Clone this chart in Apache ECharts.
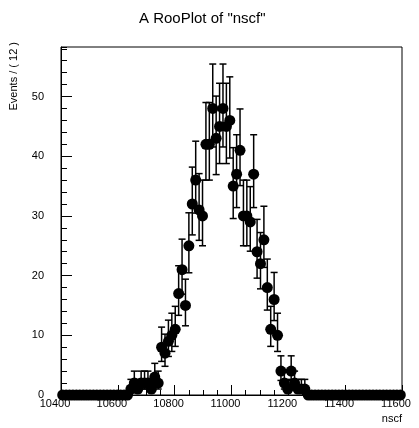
<!DOCTYPE html>
<html>
<head>
<meta charset="utf-8">
<script src="https://cdn.jsdelivr.net/npm/echarts@6/dist/echarts.min.js"></script>
<style>
  html, body { margin: 0; padding: 0; background: #fff; }
  #chart { width: 419px; height: 428px; }
</style>
</head>
<body>
<div id="chart"></div>
<script>
// Histogram of nscf: 100 bins of width 12 from 10400 to 11600
const binLow = 10400;
const binWidth = 12;
const counts = [
  0, 0, 0, 0, 0, 0, 0, 0, 0, 0,
  0, 0, 0, 0, 0, 0, 0, 0, 0, 0,
  1, 2, 1, 2, 2, 2, 1, 3, 2, 8,
  7, 9, 10, 11, 17, 21, 15, 25, 32, 36,
  31, 30, 42, 42, 48, 43, 45, 48, 45, 46,
  35, 37, 41, 30, 30, 29, 37, 24, 22, 26,
  18, 11, 16, 10, 4, 2, 1, 4, 2, 1,
  1, 1, 0, 0, 0, 0, 0, 0, 0, 0,
  0, 0, 0, 0, 0, 0, 0, 0, 0, 0,
  0, 0, 0, 0, 0, 0, 0, 0, 0, 0
];
const xTicks = [10400, 10600, 10800, 11000, 11200, 11400, 11600];
const yTicks = [0, 10, 20, 30, 40, 50];

const xMin = 10400, xMax = 11600;
const yMin = 0, yMax = 58.3;

// points: [binCenter, count, lowerError, upperError] (approximate Poisson interval)
const points = counts.map((n, i) => {
  const c = binLow + binWidth * (i + 0.5);
  const s = Math.sqrt(n + 0.25);
  return [c, n, n + 0.5 - s, n + 0.5 + s];
});

const chart = echarts.init(document.getElementById('chart'), null, { renderer: 'canvas' });

const labelFont = 'Liberation Sans, Arial, Helvetica, sans-serif';

function errorBar(params, api) {
  const n = api.value(1);
  if (n <= 0) return null;
  const x = api.coord([api.value(0), n])[0];
  const yLo = api.coord([api.value(0), api.value(2)])[1];
  const yHi = api.coord([api.value(0), api.value(3)])[1];
  const cap = 3.5;
  const style = { stroke: '#000', lineWidth: 1.5 };
  return {
    type: 'group',
    children: [
      { type: 'line', shape: { x1: x, y1: yLo, x2: x, y2: yHi }, style },
      { type: 'line', shape: { x1: x - cap, y1: yHi, x2: x + cap, y2: yHi }, style },
      { type: 'line', shape: { x1: x - cap, y1: yLo, x2: x + cap, y2: yLo }, style }
    ]
  };
}

chart.setOption({
  animation: false,
  backgroundColor: '#fff',
  title: {
    text: 'A RooPlot of "nscf"',
    left: 134,
    top: 6,
    textStyle: { fontFamily: labelFont, fontSize: 15, fontWeight: 'normal', color: '#000' }
  },
  grid: {
    left: 61, right: 17, top: 47, bottom: 33,
    show: true, borderColor: '#000', borderWidth: 1, backgroundColor: 'transparent'
  },
  xAxis: [{
    type: 'value',
    min: xMin, max: xMax, interval: 200,
    axisLine: { show: true, lineStyle: { color: '#000', width: 1 } },
    axisTick: { show: true, inside: true, length: 10, lineStyle: { color: '#000' } },
    minorTick: { show: true, splitNumber: 4, length: 5, lineStyle: { color: '#000' } },
    splitLine: { show: false },
    axisLabel: {
      margin: 3,
      fontFamily: labelFont, fontSize: 11, color: '#000',
      padding: [0, 12, 0, 0],
      formatter: v => (xTicks.indexOf(v) >= 0 ? String(v) : '')
    }
  }],
  yAxis: [{
    type: 'value',
    min: yMin, max: yMax, interval: 10,
    axisLine: { show: true, lineStyle: { color: '#000', width: 1 } },
    axisTick: { show: true, inside: true, length: 11, lineStyle: { color: '#000' } },
    splitLine: { show: false },
    axisLabel: {
      margin: 17,
      showMaxLabel: false,
      fontFamily: labelFont, fontSize: 11, color: '#000',
      formatter: v => (yTicks.indexOf(v) >= 0 ? String(v) : '')
    }
  }, {
    // secondary ticks every 2 events
    type: 'value',
    position: 'left',
    min: yMin, max: yMax, interval: 2,
    axisLine: { show: false },
    axisTick: { show: true, inside: true, length: 6, lineStyle: { color: '#000' } },
    splitLine: { show: false },
    axisLabel: { show: false }
  }],
  graphic: [{
    type: 'text',
    x: 14, y: 42,
    rotation: Math.PI / 2,
    style: {
      text: 'Events / ( 12 )',
      fontFamily: labelFont, fontSize: 11, fill: '#000',
      textAlign: 'right', textVerticalAlign: 'middle'
    }
  }, {
    type: 'text',
    x: 402, y: 419,
    style: {
      text: 'nscf',
      fontFamily: labelFont, fontSize: 11, fill: '#000',
      textAlign: 'right', textVerticalAlign: 'middle'
    }
  }],
  series: [{
    type: 'custom',
    renderItem: errorBar,
    data: points,
    clip: false,
    z: 2
  }, {
    type: 'scatter',
    data: points.map(p => [p[0], p[1]]),
    symbol: 'circle',
    symbolSize: 11,
    itemStyle: { color: '#000', opacity: 1 },
    clip: false,
    z: 3
  }]
});
</script>
</body>
</html>
